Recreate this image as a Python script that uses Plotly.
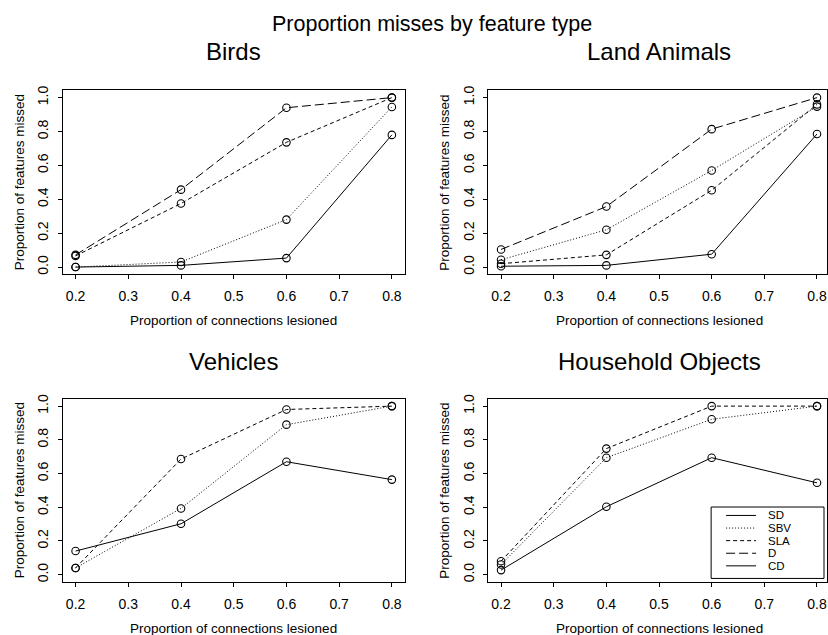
import plotly.graph_objects as go

# ---------------- data ----------------
x_vals = [0.2, 0.4, 0.6, 0.8]
x_ticks = [0.2, 0.3, 0.4, 0.5, 0.6, 0.7, 0.8]
y_ticks = [0.0, 0.2, 0.4, 0.6, 0.8, 1.0]

panel_titles = ["Birds", "Land Animals", "Vehicles", "Household Objects"]
series_names = ["SD", "SBV", "SLA", "D", "CD"]

birds_sd = [0.00, 0.01, 0.053, 0.78]
birds_sbv = [0.00, 0.03, 0.28, 0.945]
birds_sla = [0.066, 0.375, 0.736, 1.00]
birds_d = [0.072, 0.457, 0.94, 1.00]

land_sd = [0.005, 0.01, 0.076, 0.785]
land_sbv = [0.043, 0.22, 0.57, 0.947]
land_sla = [0.02, 0.072, 0.453, 0.96]
land_d = [0.104, 0.357, 0.814, 1.00]

veh_sd = [0.14, 0.302, 0.67, 0.564]
veh_sbv = [0.04, 0.393, 0.89, 1.00]
veh_sla = [0.04, 0.686, 0.98, 1.00]

house_sd = [0.027, 0.403, 0.694, 0.545]
house_sbv = [0.06, 0.694, 0.922, 1.00]
house_sla = [0.08, 0.748, 1.00, 1.00]

panel_data = [
    {"SD": birds_sd, "SBV": birds_sbv, "SLA": birds_sla, "D": birds_d},
    {"SD": land_sd, "SBV": land_sbv, "SLA": land_sla, "D": land_d},
    {"SD": veh_sd, "SBV": veh_sbv, "SLA": veh_sla},
    {"SD": house_sd, "SBV": house_sbv, "SLA": house_sla},
]

main_title = "Proportion misses by feature type"
x_title = "Proportion of connections lesioned"
y_title = "Proportion of features missed"

# ---------------- styles / layout helpers ----------------
W, H = 828, 635
FONT = "Liberation Sans, Arial, Helvetica, sans-serif"
dash_map = {"SD": "solid", "SBV": "1px,2px", "SLA": "4px,3px", "D": "9px,4px", "CD": "solid"}


def fx(px):
    return px / W


def fy(py):
    return 1 - py / H


# panel boxes in window pixels (left, right, top, bottom)
boxes = [(63, 405, 86, 271.5), (489, 828, 86, 271.5),
         (63, 405, 397, 581.5), (489, 828, 397, 581.5)]
x_ranges = [[0.176, 0.824], [0.176, 0.819], [0.176, 0.824], [0.176, 0.819]]
y_range = [-0.043, 1.043]
title_offsets = [39.5, 39.5, 37.5, 37.5]

fig = go.Figure()

for i, data in enumerate(panel_data):
    ax = "" if i == 0 else str(i + 1)
    for name, vals in data.items():
        fig.add_trace(go.Scatter(
            x=x_vals, y=vals, mode="lines+markers", name=name, showlegend=False,
            line=dict(color="black", width=1, dash=dash_map[name]),
            marker=dict(symbol="circle-open", size=7.5, color="black", line=dict(width=1.1)),
            xaxis="x" + ax, yaxis="y" + ax,
        ))

layout = dict(
    width=W, height=H,
    margin=dict(l=0, r=0, t=0, b=0),
    paper_bgcolor="white", plot_bgcolor="white",
    font=dict(family=FONT, color="black", size=13),
    showlegend=False,
)

annotations = [dict(text=main_title, x=fx(433), y=fy(19.5), xref="paper", yref="paper",
                    showarrow=False, xanchor="center", yanchor="middle",
                    font=dict(size=21.5, family=FONT))]
shapes = []

for i, (l, r, t, b) in enumerate(boxes):
    ax = "" if i == 0 else str(i + 1)
    layout["xaxis" + ax] = dict(
        domain=[fx(l), min(fx(r), 1.0)], range=x_ranges[i], anchor="y" + ax,
        tickmode="array", tickvals=x_ticks, ticktext=[f"{v:.1f}" for v in x_ticks],
        ticks="outside", ticklen=4, tickcolor="black", tickwidth=1,
        ticklabelstandoff=5,
        showline=True, linecolor="black", linewidth=1, mirror=True,
        showgrid=False, zeroline=False,
        tickfont=dict(size=14, family=FONT, color="black"),
    )
    layout["yaxis" + ax] = dict(
        domain=[fy(b), fy(t)], range=y_range, anchor="x" + ax,
        tickmode="array", tickvals=y_ticks, ticktext=[f"{v:.1f}" for v in y_ticks],
        ticks="outside", ticklen=4, tickcolor="black", tickwidth=1, tickangle=-90,
        ticklabelstandoff=4,
        showline=True, linecolor="black", linewidth=1, mirror=True,
        showgrid=False, zeroline=False,
        tickfont=dict(size=14, family=FONT, color="black"),
    )
    cx = (l + (831 if r == 828 else r)) / 2
    cy = (t + b) / 2
    annotations.append(dict(text=panel_titles[i], x=fx(cx), y=fy(t - title_offsets[i]),
                            xref="paper", yref="paper", showarrow=False,
                            xanchor="center", yanchor="middle",
                            font=dict(size=24, family=FONT)))
    annotations.append(dict(text=x_title, x=fx(cx), y=fy(b + 47),
                            xref="paper", yref="paper", showarrow=False,
                            xanchor="center", yanchor="middle",
                            font=dict(size=13.5, family=FONT)))
    annotations.append(dict(text=y_title, x=fx(l - 44), y=fy(cy),
                            xref="paper", yref="paper", showarrow=False, textangle=-90,
                            xanchor="center", yanchor="middle",
                            font=dict(size=13.5, family=FONT)))

# legend box drawn in the Household Objects panel
leg_left, leg_right, leg_top, leg_bottom = 712, 825, 506, 578
shapes.append(dict(type="rect", xref="paper", yref="paper",
                   x0=fx(leg_left), x1=fx(leg_right), y0=fy(leg_bottom), y1=fy(leg_top),
                   line=dict(color="black", width=1), fillcolor="white", layer="above"))
for k, name in enumerate(series_names):
    yy = 514.5 + 12.7 * k
    shapes.append(dict(type="line", xref="paper", yref="paper",
                       x0=fx(727), x1=fx(757), y0=fy(yy), y1=fy(yy),
                       line=dict(color="black", width=1, dash=dash_map[name]), layer="above"))
    annotations.append(dict(text=name, x=fx(767), y=fy(yy), xref="paper", yref="paper",
                            showarrow=False, xanchor="left", yanchor="middle",
                            font=dict(size=11.5, family=FONT)))

layout["annotations"] = annotations
layout["shapes"] = shapes
fig.update_layout(**layout)
fig.write_html(
    "out.html",
    config={"displayModeBar": False},
    post_script="document.body.style.margin='0';document.body.style.overflow='hidden';",
)
